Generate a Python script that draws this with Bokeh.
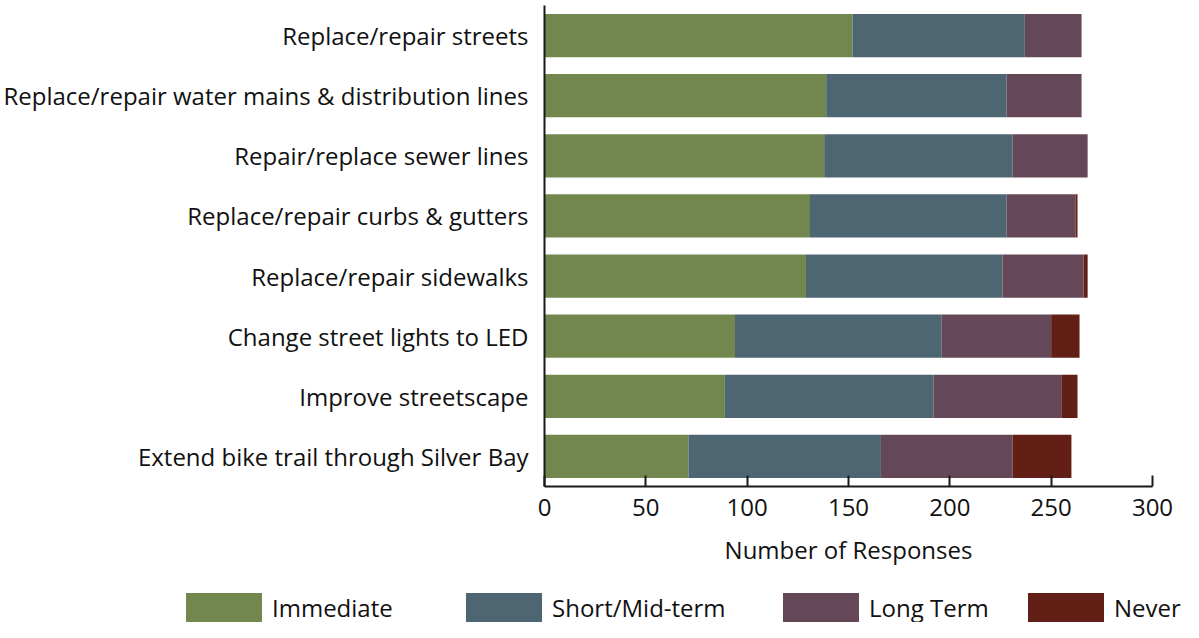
from bokeh.plotting import figure
from bokeh.layouts import column
from bokeh.models import (ColumnDataSource, FactorRange, Range1d, FixedTicker,
                          Legend, LegendItem)
from bokeh.embed import file_html
from bokeh.resources import INLINE

categories = [
    "Replace/repair streets",
    "Replace/repair water mains & distribution lines",
    "Repair/replace sewer lines",
    "Replace/repair curbs & gutters",
    "Replace/repair sidewalks",
    "Change street lights to LED",
    "Improve streetscape",
    "Extend bike trail through Silver Bay",
]
immediate = [152, 139, 138, 131, 129, 94, 89, 71]
short_mid = [85, 89, 93, 97, 97, 102, 103, 95]
long_term = [28, 37, 37, 34, 40, 54, 63, 65]
never = [0, 0, 0, 1, 2, 14, 8, 29]

series = ["Immediate", "Short/Mid-term", "Long Term", "Never"]
colors = ["#71874e", "#4e6672", "#654857", "#621f15"]
x_ticks = [0, 50, 100, 150, 200, 250, 300]

FONT = "Open Sans"
FS = "24px"

source = ColumnDataSource(dict(
    cat=categories,
    Immediate=immediate,
    **{"Short/Mid-term": short_mid},
    **{"Long Term": long_term},
    Never=never,
))

p = figure(
    width=1183, height=582,
    y_range=FactorRange(factors=list(reversed(categories)), range_padding=0),
    x_range=Range1d(0, 300),
    output_backend="svg", toolbar_location=None,
    min_border_left=541, min_border_right=31, min_border_top=5,
    min_border_bottom=96,
)
p.frame_align = False

p.hbar_stack(series, y="cat", height=0.72, color=colors,
             source=source, line_width=0)

p.xgrid.visible = False
p.ygrid.visible = False
p.outline_line_color = None

p.xaxis.ticker = FixedTicker(ticks=x_ticks)
p.xaxis.major_tick_in = 11
p.xaxis.major_tick_out = 0
p.xaxis.minor_tick_line_color = None
p.xaxis.axis_line_width = 2
p.xaxis.major_tick_line_width = 2
p.xaxis.axis_line_color = "#1a1a1a"
p.xaxis.major_tick_line_color = "#1a1a1a"
p.xaxis.major_label_text_font = FONT
p.xaxis.major_label_text_font_size = FS
p.xaxis.major_label_text_color = "#111111"
p.xaxis.major_label_standoff = 12
p.xaxis.axis_label = "Number of Responses"
p.xaxis.axis_label_text_font = FONT
p.xaxis.axis_label_text_font_size = FS
p.xaxis.axis_label_text_font_style = "normal"
p.xaxis.axis_label_text_color = "#111111"
p.xaxis.axis_label_standoff = 14

p.yaxis.major_tick_line_color = None
p.yaxis.minor_tick_line_color = None
p.yaxis.axis_line_width = 2
p.yaxis.axis_line_color = "#1a1a1a"
p.yaxis.major_label_text_font = FONT
p.yaxis.major_label_text_font_size = FS
p.yaxis.major_label_text_color = "#111111"
p.yaxis.major_label_standoff = 10

# legend strip: swatch renderers hold a single NaN row, so they draw nothing
lg = figure(width=1183, height=40, output_backend="svg", toolbar_location=None,
            x_axis_type=None, y_axis_type=None, min_border=0,
            x_range=Range1d(0, 1), y_range=Range1d(0, 1))
lg.frame_align = False
lg.outline_line_color = None
lg.xgrid.visible = False
lg.ygrid.visible = False
nan = float("nan")
legend_x = [176, 456, 773, 1018]   # swatch box left edges (box is inset 10%)
for s, c, lx in zip(series, colors, legend_x):
    r = lg.hbar(y=[nan], right=[nan], height=1, fill_color=c, line_color=None)
    leg = Legend(items=[LegendItem(label=s, renderers=[r])],
                 location=(lx, -3), orientation="horizontal",
                 glyph_width=95, glyph_height=36, label_standoff=1,
                 padding=0, margin=0, border_line_color=None,
                 background_fill_alpha=0, label_text_font=FONT,
                 label_text_font_size=FS, label_text_color="#111111",
                 label_height=36, click_policy="none")
    lg.add_layout(leg, "center")

layout = column(p, lg, spacing=0)
open("out.html", "w").write(file_html(layout, INLINE))
